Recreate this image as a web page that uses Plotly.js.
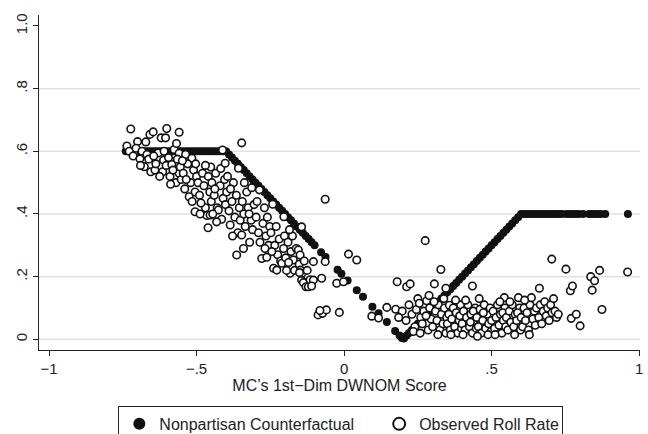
<!DOCTYPE html>
<html><head><meta charset="utf-8">
<script src="https://cdn.plot.ly/plotly-3.0.1.min.js"></script>
<style>html,body{margin:0;padding:0;background:#fff}#chart{width:648px;height:434px}</style>
</head><body><div id="chart"></div>
<script>
const xTickVals = [-1, -0.5, 0, 0.5, 1];
const xTickText = ["\u22121", "\u2212.5", "0", ".5", "1"];
const yTickVals = [0, 0.2, 0.4, 0.6, 0.8, 1.0];
const yTickText = ["0", ".2", ".4", ".6", ".8", "1.0"];
const gridVals = [0, 0.2, 0.4, 0.6, 0.8];
const xTitle = "MC\u2019s 1st\u2212Dim DWNOM Score";
const cfName = "Nonpartisan Counterfactual";
const obsName = "Observed Roll Rate";

// Nonpartisan counterfactual (filled markers)
const cfX = [
  -0.74,-0.73,-0.72,-0.71,-0.70,-0.69,-0.68,-0.67,-0.66,-0.65,-0.64,-0.63,-0.62,-0.61,-0.60,-0.59,-0.58,-0.57,-0.56,-0.55,-0.54,-0.53,-0.52,-0.51,-0.50,-0.49,-0.48,-0.47,-0.46,-0.45,-0.44,-0.43,-0.42,-0.41,-0.40,
  -0.39,-0.38,-0.37,-0.36,-0.35,-0.34,-0.33,-0.32,-0.31,-0.30,-0.29,-0.28,-0.27,-0.26,-0.25,-0.24,-0.23,-0.22,-0.21,-0.20,-0.19,-0.18,-0.17,-0.16,-0.15,-0.14,-0.13,-0.12,-0.11,-0.10,
  -0.078,-0.063,-0.022,-0.009,0.012,0.043,0.064,0.096,0.117,0.145,0.173,0.188,0.196,0.203,0.212,
  0.22,0.23,0.24,0.25,0.26,0.27,0.28,0.29,0.30,0.31,0.32,0.33,0.34,0.35,0.36,0.37,0.38,0.39,0.40,0.41,0.42,0.43,0.44,0.45,0.46,0.47,0.48,0.49,0.50,0.51,0.52,0.53,0.54,0.55,0.56,0.57,0.58,0.59,0.60,
  0.61,0.62,0.63,0.64,0.65,0.66,0.67,0.68,0.69,0.70,0.71,0.72,0.73,0.74,
  0.755,0.765,0.775,0.785,0.795,0.81,
  0.83,0.84,0.85,0.86,0.87,0.885,
  0.962
];
const cfY = [
  0.60,0.60,0.60,0.60,0.60,0.60,0.60,0.60,0.60,0.60,0.60,0.60,0.60,0.60,0.60,0.60,0.60,0.60,0.60,0.60,0.60,0.60,0.60,0.60,0.60,0.60,0.60,0.60,0.60,0.60,0.60,0.60,0.60,0.60,0.60,
  0.59,0.58,0.57,0.56,0.55,0.54,0.53,0.52,0.51,0.50,0.49,0.48,0.47,0.46,0.45,0.44,0.43,0.42,0.41,0.40,0.39,0.38,0.37,0.36,0.35,0.34,0.33,0.32,0.31,0.30,
  0.278,0.263,0.222,0.209,0.188,0.157,0.136,0.104,0.083,0.055,0.027,0.012,0.004,0.003,0.012,
  0.02,0.03,0.04,0.05,0.06,0.07,0.08,0.09,0.10,0.11,0.12,0.13,0.14,0.15,0.16,0.17,0.18,0.19,0.20,0.21,0.22,0.23,0.24,0.25,0.26,0.27,0.28,0.29,0.30,0.31,0.32,0.33,0.34,0.35,0.36,0.37,0.38,0.39,0.40,
  0.40,0.40,0.40,0.40,0.40,0.40,0.40,0.40,0.40,0.40,0.40,0.40,0.40,0.40,
  0.40,0.40,0.40,0.40,0.40,0.40,
  0.40,0.40,0.40,0.40,0.40,0.40,
  0.40
];

// Observed roll rate (hollow markers)
const obsX = [
  -0.736,-0.723,-0.71,-0.70,-0.728,-0.715,-0.705,-0.692,-0.677,-0.685,-0.668,-0.658,-0.662,-0.672,-0.655,-0.69,-0.647,-0.641,-0.62,-0.605,-0.601,-0.612,-0.615,-0.63,-0.638,-0.625,-0.61,-0.603,-0.645,
  -0.576,-0.584,-0.559,-0.559,-0.559,-0.59,-0.57,-0.565,-0.595,-0.555,-0.58,-0.588,-0.552,-0.568,-0.537,-0.516,-0.545,-0.53,-0.52,-0.54,-0.51,-0.505,-0.525,-0.535,-0.515,-0.50,-0.548,-0.503,-0.505,
  -0.495,-0.49,-0.48,-0.47,-0.475,-0.46,-0.455,-0.461,-0.485,-0.465,-0.45,-0.452,-0.488,-0.47,-0.454,
  -0.448,-0.44,-0.435,-0.43,-0.426,-0.42,-0.415,-0.41,-0.405,-0.445,-0.438,-0.402,-0.418,-0.432,-0.412,-0.403,
  -0.398,-0.39,-0.386,-0.38,-0.375,-0.37,-0.365,-0.358,-0.36,-0.355,-0.364,-0.352,-0.395,-0.378,-0.385,
  -0.347,-0.341,-0.347,-0.345,-0.34,-0.335,-0.33,-0.325,-0.32,-0.315,-0.313,-0.31,-0.305,-0.338,-0.322,
  -0.298,-0.29,-0.287,-0.285,-0.279,-0.275,-0.27,-0.265,-0.262,-0.26,-0.255,-0.252,-0.295,-0.268,
  -0.248,-0.242,-0.239,-0.235,-0.23,-0.228,-0.225,-0.22,-0.215,-0.211,-0.205,-0.204,-0.202,-0.245,
  -0.198,-0.19,-0.183,-0.18,-0.175,-0.172,-0.168,-0.162,-0.155,-0.152,-0.195,-0.185,-0.188,
  -0.149,-0.148,-0.144,-0.143,-0.144,-0.138,-0.129,-0.121,-0.135,-0.125,-0.115,-0.104,-0.104,-0.11,-0.151,
  -0.088,-0.073,-0.06,-0.076,-0.064,-0.064,-0.025,-0.016,-0.002,-0.082,0.015,0.043,
  0.094,0.117,0.145,0.18,
  0.175,0.197,0.212,0.224,0.21,0.23,0.24,0.22,0.245,0.235,0.185,0.25,
  0.255,0.275,0.28,0.26,0.265,0.27,0.285,0.29,0.295,0.258,0.278,0.288,
  0.306,0.328,0.345,0.30,0.31,0.315,0.32,0.325,0.33,0.335,0.34,0.345,0.305,0.318,0.338,0.348,
  0.357,0.35,0.355,0.36,0.365,0.37,0.375,0.38,0.385,0.39,0.395,0.398,0.362,0.378,0.392,
  0.435,0.40,0.405,0.41,0.415,0.42,0.425,0.43,0.435,0.44,0.445,0.448,0.412,0.428,0.403,0.438,
  0.45,0.455,0.461,0.465,0.47,0.475,0.48,0.485,0.49,0.495,0.498,0.458,0.472,0.488,0.452,
  0.50,0.505,0.51,0.515,0.52,0.525,0.53,0.535,0.54,0.543,0.545,0.548,0.512,0.528,0.538,
  0.55,0.555,0.56,0.565,0.57,0.575,0.58,0.585,0.591,0.595,0.598,0.562,0.578,0.588,
  0.60,0.605,0.61,0.615,0.62,0.625,0.63,0.635,0.64,0.645,0.648,0.612,0.628,
  0.652,0.66,0.662,0.665,0.67,0.675,0.68,0.685,0.69,0.695,0.70,0.705,0.71,0.715,0.72,0.704,
  0.726,0.752,0.767,0.774,0.77,0.787,0.80,0.836,0.849,0.841,0.866,0.874,0.961
];
const obsY = [
  0.617,0.671,0.60,0.631,0.60,0.585,0.61,0.576,0.551,0.60,0.59,0.654,0.575,0.63,0.535,0.555,0.662,0.540,0.643,0.643,0.673,0.572,0.535,0.595,0.56,0.52,0.60,0.555,0.585,
  0.606,0.558,0.594,0.530,0.661,0.52,0.50,0.575,0.58,0.55,0.54,0.495,0.51,0.625,0.590,0.578,0.53,0.56,0.50,0.48,0.54,0.47,0.455,0.51,0.44,0.52,0.57,0.56,0.407,
  0.50,0.46,0.53,0.42,0.49,0.52,0.47,0.356,0.435,0.395,0.44,0.55,0.40,0.555,0.397,
  0.50,0.46,0.53,0.42,0.413,0.49,0.383,0.45,0.51,0.40,0.48,0.43,0.545,0.375,0.604,0.562,
  0.47,0.41,0.365,0.44,0.50,0.39,0.46,0.546,0.34,0.42,0.269,0.38,0.52,0.33,0.48,
  0.333,0.29,0.627,0.44,0.40,0.36,0.47,0.42,0.31,0.38,0.484,0.35,0.43,0.50,0.40,
  0.39,0.34,0.477,0.31,0.258,0.37,0.42,0.33,0.262,0.39,0.30,0.36,0.44,0.29,
  0.34,0.431,0.227,0.30,0.36,0.221,0.27,0.32,0.25,0.243,0.29,0.391,0.33,0.28,
  0.26,0.31,0.211,0.28,0.33,0.253,0.22,0.29,0.285,0.24,0.22,0.35,0.245,
  0.269,0.221,0.189,0.211,0.359,0.181,0.168,0.168,0.25,0.22,0.19,0.248,0.189,0.17,0.213,
  0.078,0.083,0.094,0.195,0.248,0.447,0.179,0.086,0.184,0.092,0.272,0.253,
  0.074,0.068,0.102,0.184,
  0.096,0.09,0.168,0.177,0.06,0.08,0.04,0.11,0.095,0.025,0.07,0.13,
  0.115,0.315,0.123,0.07,0.05,0.09,0.03,0.10,0.065,0.02,0.075,0.14,
  0.177,0.223,0.163,0.04,0.09,0.06,0.11,0.03,0.08,0.05,0.10,0.02,0.12,0.015,0.13,0.07,
  0.109,0.05,0.08,0.03,0.065,0.10,0.04,0.085,0.02,0.06,0.11,0.035,0.015,0.125,0.075,
  0.170,0.05,0.09,0.03,0.07,0.11,0.04,0.08,0.02,0.06,0.10,0.035,0.125,0.055,0.015,0.09,
  0.07,0.04,0.096,0.02,0.06,0.11,0.035,0.08,0.05,0.10,0.025,0.13,0.085,0.015,0.01,
  0.06,0.09,0.035,0.07,0.11,0.045,0.08,0.02,0.06,0.133,0.10,0.04,0.015,0.12,0.085,
  0.07,0.03,0.09,0.055,0.11,0.04,0.08,0.06,0.133,0.10,0.03,0.12,0.015,0.085,
  0.07,0.04,0.10,0.06,0.085,0.03,0.11,0.133,0.065,0.09,0.045,0.125,0.015,
  0.10,0.07,0.163,0.11,0.05,0.09,0.12,0.075,0.10,0.06,0.11,0.085,0.13,0.09,0.07,0.256,
  0.08,0.224,0.155,0.170,0.067,0.08,0.043,0.2,0.187,0.157,0.220,0.095,0.215
];

const ink = '#111111';
const traces = [
  {
    type: 'scatter', mode: 'markers', name: cfName, legend: 'legend',
    x: cfX, y: cfY,
    marker: {symbol: 'circle', size: 8, color: ink, line: {width: 0}},
    hoverinfo: 'skip'
  },
  {
    type: 'scatter', mode: 'markers', name: obsName, legend: 'legend2',
    x: obsX, y: obsY,
    marker: {symbol: 'circle', size: 7.5, color: '#ffffff', line: {color: ink, width: 1.6}},
    hoverinfo: 'skip'
  }
];

const layout = {
  width: 648, height: 434,
  margin: {l: 39, r: 8, t: 15, b: 84, autoexpand: false},
  paper_bgcolor: '#ffffff', plot_bgcolor: '#ffffff',
  font: {family: 'Liberation Sans, Arial, sans-serif', size: 15, color: '#222222'},
  showlegend: true,
  xaxis: {
    range: [-1.034, 1.003], tickmode: 'array', tickvals: xTickVals, ticktext: xTickText,
    ticks: 'outside', ticklen: 5, tickwidth: 1, tickcolor: '#222',
    showline: true, linecolor: '#222', linewidth: 1.3, showgrid: false, zeroline: false,
    automargin: false, tickfont: {size: 15},
    title: {text: xTitle, font: {size: 16}, standoff: 3}
  },
  yaxis: {
    range: [-0.034, 1.035], tickmode: 'array', tickvals: yTickVals, ticktext: yTickText,
    tickangle: -90, ticks: 'outside', ticklen: 5, tickwidth: 1, tickcolor: '#222',
    showline: true, linecolor: '#222', linewidth: 1.3, showgrid: false, zeroline: false,
    automargin: false, tickfont: {size: 15}
  },
  legend: {
    orientation: 'h', x: 0.132, xanchor: 'left', y: -0.167, yanchor: 'top',
    bordercolor: '#222', borderwidth: 1, bgcolor: '#ffffff',
    entrywidth: 398, font: {size: 16}, itemsizing: 'constant'
  },
  legend2: {
    orientation: 'h', x: 0.566, xanchor: 'left', y: -0.170, yanchor: 'top',
    borderwidth: 0, bgcolor: 'rgba(0,0,0,0)', font: {size: 16}, itemsizing: 'constant'
  },
  shapes: gridVals.map(v => ({
    type: 'line', xref: 'paper', x0: 0, x1: 1, yref: 'y', y0: v, y1: v,
    line: {color: '#e2e2e2', width: 1.5}, layer: 'below'
  }))
};

Plotly.newPlot('chart', traces, layout, {displayModeBar: false, staticPlot: true});
</script>
</body></html>
